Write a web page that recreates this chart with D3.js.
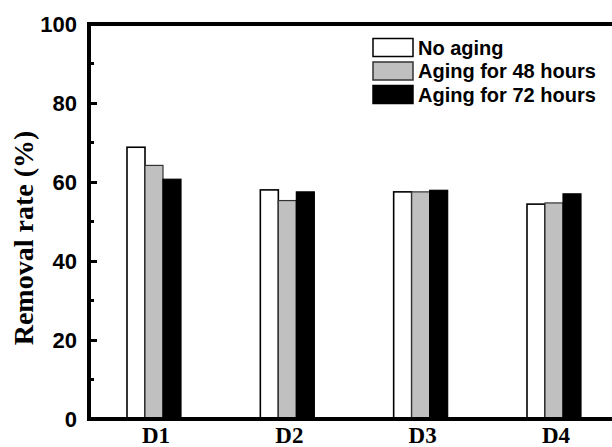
<!DOCTYPE html>
<html>
<head>
<meta charset="utf-8">
<script src="https://cdn.jsdelivr.net/npm/d3@7"></script>
<style>
  html, body { margin: 0; padding: 0; background: #fff; }
  svg { display: block; }
</style>
</head>
<body>
<svg id="chart" width="612" height="447"></svg>
<script>
// Removal rate of each sample under different aging times
const categories = ["D1", "D2", "D3", "D4"];
const seriesNames = ["No aging", "Aging for 48 hours", "Aging for 72 hours"];
const noAging = [68.8, 58.0, 57.5, 54.4];
const aging48 = [64.2, 55.3, 57.5, 54.7];
const aging72 = [60.7, 57.5, 57.9, 57.0];
const yTicks = [0, 20, 40, 60, 80, 100];
const yMinorTicks = [10, 30, 50, 70, 90];

const fills = ["#ffffff", "#c0c0c0", "#000000"];
const strokes = ["#000000", "#333333", "#000000"];

const svg = d3.select("#chart");
const plotLeft = 89, plotTop = 24, plotBottom = 419, plotRight = 619;

const y = d3.scaleLinear().domain([0, 100]).range([plotBottom, plotTop]);
const x = d3.scalePoint().domain(categories).range([plotLeft, plotRight]).padding(0.4875);
const sub = d3.scaleBand().domain(seriesNames).range([-27, 27]).padding(0);

const series = [noAging, aging48, aging72];
const rows = categories.flatMap((c, i) => series.map((s, j) => ({ cat: c, name: seriesNames[j], value: s[i], j })));

// bars
svg.append("g").selectAll("rect").data(rows).join("rect")
  .attr("x", d => x(d.cat) + sub(d.name))
  .attr("width", sub.bandwidth())
  .attr("y", d => y(d.value))
  .attr("height", d => y(0) - y(d.value))
  .attr("fill", d => fills[d.j])
  .attr("stroke", d => strokes[d.j])
  .attr("stroke-width", d => d.j === 0 ? 1.6 : 1.2);

// frame: top line and bottom axis line
svg.append("line").attr("x1", plotLeft).attr("x2", 612).attr("y1", plotTop).attr("y2", plotTop)
  .attr("stroke", "#000").attr("stroke-width", 4);
svg.append("line").attr("x1", plotLeft - 2).attr("x2", 612).attr("y1", plotBottom).attr("y2", plotBottom)
  .attr("stroke", "#000").attr("stroke-width", 4);

// y axis with inward ticks
const yAxis = d3.axisLeft(y).tickValues(yTicks).tickSizeInner(-8).tickSizeOuter(0).tickPadding(12);
const gy = svg.append("g").attr("transform", `translate(${plotLeft},0)`).call(yAxis);
gy.select(".domain").attr("stroke", "#000").attr("stroke-width", 4)
  .attr("d", `M0,${plotTop - 2}V${plotBottom + 2}`);
gy.selectAll(".tick line").attr("stroke", "#000").attr("stroke-width", 3);
gy.selectAll(".tick text")
  .attr("x", -12)
  .attr("fill", "#000")
  .style("font-family", "'Liberation Sans', Arial, sans-serif")
  .style("font-weight", "bold")
  .style("font-size", "22px");

svg.append("g").selectAll("line").data(yMinorTicks).join("line")
  .attr("x1", plotLeft).attr("x2", plotLeft + 5)
  .attr("y1", d => y(d)).attr("y2", d => y(d))
  .attr("stroke", "#000").attr("stroke-width", 3);

// x category labels
svg.append("g").selectAll("text").data(categories).join("text")
  .attr("x", d => x(d) + 2)
  .attr("y", 443)
  .attr("text-anchor", "middle")
  .style("font-family", "'Liberation Serif', 'Times New Roman', serif")
  .style("font-weight", "bold")
  .style("font-size", "23px")
  .text(d => d);

// y axis title
svg.append("text")
  .attr("transform", "translate(33,238) rotate(-90)")
  .attr("text-anchor", "middle")
  .style("font-family", "'Liberation Serif', 'Times New Roman', serif")
  .style("font-weight", "bold")
  .style("font-size", "28px")
  .text("Removal rate (%)");

// legend
const legend = svg.append("g").selectAll("g").data(seriesNames).join("g")
  .attr("transform", (d, i) => `translate(373,${47.5 + i * 23.5})`);
legend.append("rect")
  .attr("x", 0).attr("y", -9).attr("width", 40).attr("height", 18)
  .attr("fill", (d, i) => fills[i])
  .attr("stroke", (d, i) => strokes[i])
  .attr("stroke-width", 1.5);
legend.append("text")
  .attr("x", 45).attr("y", 0)
  .attr("dominant-baseline", "central")
  .style("font-family", "'Liberation Sans', Arial, sans-serif")
  .style("font-weight", "bold")
  .style("font-size", "20px")
  .text(d => d);
</script>
</body>
</html>
